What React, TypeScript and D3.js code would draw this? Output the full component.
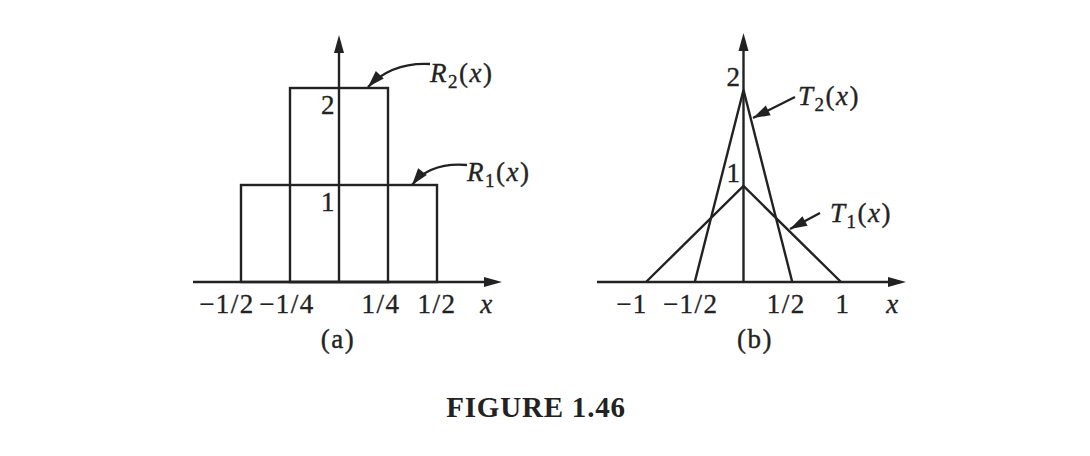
import React from "react";
import * as d3 from "d3";

const width = 1090,
  height = 456;
const ink = "#222";
const font = "'Liberation Serif', 'Times New Roman', serif";
const fs = 27;
const ls = 1.5;

// panel (a): rectangles
const rectNames = ["R1", "R2"];
const rectHalfWidths = [1 / 2, 1 / 4];
const rectHeights = [1, 2];
const ticksA = [-1 / 2, -1 / 4, 1 / 4, 1 / 2];
const tickLabelsA = ["\u22121/2", "\u22121/4", "1/4", "1/2"];

// panel (b): triangles
const triNames = ["T1", "T2"];
const triHalfWidths = [1, 1 / 2];
const triHeights = [1, 2];
const ticksB = [-1, -1 / 2, 1 / 2, 1];
const tickLabelsB = ["\u22121", "\u22121/2", "1/2", "1"];

const yTicks = [1, 2];

// scales
const xA = d3.scaleLinear().domain([-0.5, 0.5]).range([241, 437]);
const yA = d3.scaleLinear().domain([0, 2]).range([282, 88]);
const xB = d3.scaleLinear().domain([-1, 1]).range([646, 841]);
const yB = d3.scaleLinear().domain([0, 2]).range([282, 90]);

// small nudges so the labels sit where the book put them
const tickDxA = [-14, -3, -7, 0];
const tickDxB = [-14, -4, -6, 2];

const textStyle = {
  fontFamily: font,
  fontSize: fs,
  fill: ink,
  stroke: ink,
  strokeWidth: 0.35,
  letterSpacing: ls,
};

function arrowHead(tip: [number, number], from: [number, number], len = 16, half = 5) {
  const dx = tip[0] - from[0],
    dy = tip[1] - from[1];
  const d = Math.hypot(dx, dy);
  const ux = dx / d,
    uy = dy / d;
  const bx = tip[0] - ux * len,
    by = tip[1] - uy * len;
  return `M${tip[0]},${tip[1]}L${bx - uy * half},${by + ux * half}L${bx + uy * half},${by - ux * half}Z`;
}

function Label({ x, y, name }: { x: number; y: number; name: string }) {
  return (
    <text x={x} y={y} style={textStyle}>
      <tspan fontStyle="italic">{name[0]}</tspan>
      <tspan fontSize={19} dy={6}>
        {name[1]}
      </tspan>
      <tspan dy={-6}>(</tspan>
      <tspan fontStyle="italic">x</tspan>
      <tspan>)</tspan>
    </text>
  );
}

function Pointer({ from, ctrl, tip }: { from: [number, number]; ctrl?: [number, number]; tip: [number, number] }) {
  const p = d3.path();
  p.moveTo(from[0], from[1]);
  if (ctrl) p.quadraticCurveTo(ctrl[0], ctrl[1], tip[0], tip[1]);
  else p.lineTo(tip[0], tip[1]);
  return (
    <g>
      <path d={p.toString()} fill="none" stroke={ink} strokeWidth={2.4} />
      <path d={arrowHead(tip, ctrl || from, 17, 5.5)} fill={ink} />
    </g>
  );
}

function Axes({ x0, x1, y0, yAxisX, yTop }: { x0: number; x1: number; y0: number; yAxisX: number; yTop: number }) {
  return (
    <g>
      <line x1={x0} y1={y0} x2={x1 - 8} y2={y0} stroke={ink} strokeWidth={2.4} />
      <path d={arrowHead([x1, y0], [x0, y0], 18, 5)} fill={ink} />
      <line x1={yAxisX} y1={y0} x2={yAxisX} y2={yTop + 8} stroke={ink} strokeWidth={2.4} />
      <path d={arrowHead([yAxisX, yTop], [yAxisX, y0], 18, 5)} fill={ink} />
    </g>
  );
}

export default function App() {
  const triLine = d3
    .line<[number, number]>()
    .x((d) => xB(d[0]))
    .y((d) => yB(d[1]));

  return (
    <svg
      width={width}
      height={height}
      style={{ position: "absolute", left: 0, top: 0, background: "#fff" }}
    >
      {/* panel (a) */}
      {rectHalfWidths.map((hw, i) => (
        <rect
          key={rectNames[i]}
          x={xA(-hw)}
          y={yA(rectHeights[i])}
          width={xA(hw) - xA(-hw)}
          height={yA(0) - yA(rectHeights[i])}
          fill="none"
          stroke={ink}
          strokeWidth={2.4}
        />
      ))}
      <Axes x0={193} x1={502} y0={yA(0)} yAxisX={xA(0)} yTop={35} />
      {ticksA.map((t, i) => (
        <text key={t} x={xA(t) + tickDxA[i]} y={313} textAnchor="middle" style={textStyle}>
          {tickLabelsA[i]}
        </text>
      ))}
      <text x={487} y={313} textAnchor="middle" fontStyle="italic" style={textStyle}>
        x
      </text>
      {yTicks.map((t) => (
        <text key={t} x={xA(0) - 3} y={yA(t) + 26} textAnchor="end" style={textStyle}>
          {t}
        </text>
      ))}
      <Pointer from={[430, 64]} ctrl={[392, 62]} tip={[368, 87]} />
      <Label x={430} y={82} name={rectNames[1]} />
      <Pointer from={[467, 165]} ctrl={[430, 162]} tip={[412, 185]} />
      <Label x={467} y={181} name={rectNames[0]} />
      <text x={338} y={348} textAnchor="middle" style={textStyle}>
        (a)
      </text>

      {/* panel (b) */}
      {triHalfWidths.map((hw, i) => (
        <path
          key={triNames[i]}
          d={
            triLine([
              [-hw, 0],
              [0, triHeights[i]],
              [hw, 0],
            ]) || ""
          }
          fill="none"
          stroke={ink}
          strokeWidth={2.4}
          strokeLinejoin="miter"
        />
      ))}
      <Axes x0={597} x1={906} y0={yB(0)} yAxisX={xB(0)} yTop={33} />
      {ticksB.map((t, i) => (
        <text key={t} x={xB(t) + tickDxB[i]} y={313} textAnchor="middle" style={textStyle}>
          {tickLabelsB[i]}
        </text>
      ))}
      <text x={893} y={313} textAnchor="middle" fontStyle="italic" style={textStyle}>
        x
      </text>
      {yTicks.map((t) => (
        <text key={t} x={xB(0) - 2} y={yB(t) - 4} textAnchor="end" style={textStyle}>
          {t}
        </text>
      ))}
      <Pointer from={[795, 97]} tip={[753, 118]} />
      <Label x={798} y={105} name={triNames[1]} />
      <Pointer from={[820, 213]} tip={[790, 229]} />
      <Label x={830} y={222} name={triNames[0]} />
      <text x={755} y={348} textAnchor="middle" style={textStyle}>
        (b)
      </text>

      <text
        x={536}
        y={417}
        textAnchor="middle"
        fontFamily={font}
        fontSize={29}
        fontWeight="bold"
        letterSpacing={0.8}
        fill={ink}
      >
        FIGURE 1.46
      </text>
    </svg>
  );
}
